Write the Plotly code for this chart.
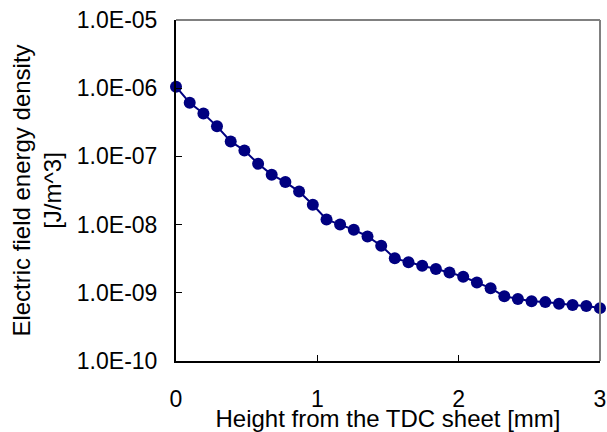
import plotly.graph_objects as go

height_mm = [0.000, 0.097, 0.194, 0.290, 0.387, 0.484, 0.581, 0.677,
             0.774, 0.871, 0.968, 1.065, 1.161, 1.258, 1.355, 1.452,
             1.548, 1.645, 1.742, 1.839, 1.935, 2.032, 2.129, 2.226,
             2.323, 2.419, 2.516, 2.613, 2.710, 2.806, 2.903, 3.000]
energy_density = [1.05e-6, 6.1e-7, 4.25e-7, 2.76e-7, 1.66e-7, 1.22e-7, 7.8e-8, 5.4e-8,
                  4.2e-8, 3.05e-8, 1.95e-8, 1.19e-8, 1.0e-8, 8.4e-9, 6.7e-9, 4.9e-9,
                  3.2e-9, 2.8e-9, 2.5e-9, 2.23e-9, 1.99e-9, 1.72e-9, 1.42e-9, 1.17e-9,
                  8.9e-10, 8.1e-10, 7.5e-10, 7.3e-10, 6.9e-10, 6.6e-10, 6.4e-10, 5.96e-10]

y_tickvals = [1e-10, 1e-9, 1e-8, 1e-7, 1e-6, 1e-5]
y_ticktext = ["1.0E-10", "1.0E-09", "1.0E-08", "1.0E-07", "1.0E-06", "1.0E-05"]
x_tickvals = [0, 1, 2, 3]
x_ticktext = ["0", "1", "2", "3"]

FONT = "Liberation Sans, Arial, sans-serif"
NAVY = "#000080"

fig = go.Figure()
fig.add_trace(go.Scatter(
    x=height_mm, y=energy_density, mode="lines+markers",
    line=dict(color=NAVY, width=2),
    marker=dict(color=NAVY, size=12),
    cliponaxis=False, showlegend=False,
))

fig.update_layout(
    width=607, height=432,
    margin=dict(l=176, r=7, t=20, b=71),
    paper_bgcolor="white", plot_bgcolor="white",
    font=dict(family=FONT, size=24, color="black"),
    shapes=[
        dict(type="line", xref="paper", yref="paper", x0=0, x1=1, y0=1, y1=1,
             line=dict(color="#808080", width=2)),
        dict(type="line", xref="paper", yref="paper", x0=1, x1=1, y0=0, y1=1,
             line=dict(color="#808080", width=2)),
    ],
)
fig.update_xaxes(
    range=[0, 3], tickvals=x_tickvals, ticktext=x_ticktext,
    ticks="inside", ticklen=6, tickcolor="black", tickwidth=1,
    showline=True, linecolor="black", linewidth=2,
    showgrid=False, zeroline=False, ticklabelstandoff=16,
    ticklabeloverflow="allow",
    tickfont=dict(size=23),
    title=dict(text="Height from the TDC sheet [mm]", standoff=3,
               font=dict(size=24)),
    automargin=False,
)
fig.update_yaxes(
    type="log", range=[-10, -5], tickvals=y_tickvals, ticktext=y_ticktext,
    ticks="inside", ticklen=6, tickcolor="black", tickwidth=1,
    showline=True, linecolor="black", linewidth=2,
    showgrid=False, zeroline=False, ticklabelstandoff=12,
    tickfont=dict(size=23),
    title=dict(text="Electric field energy density<br>[J/m^3]", standoff=8,
               font=dict(size=24)),
    automargin=False,
)

fig.write_html("out.html", config={"displayModeBar": False},
               post_script="document.body.style.margin='0';")
